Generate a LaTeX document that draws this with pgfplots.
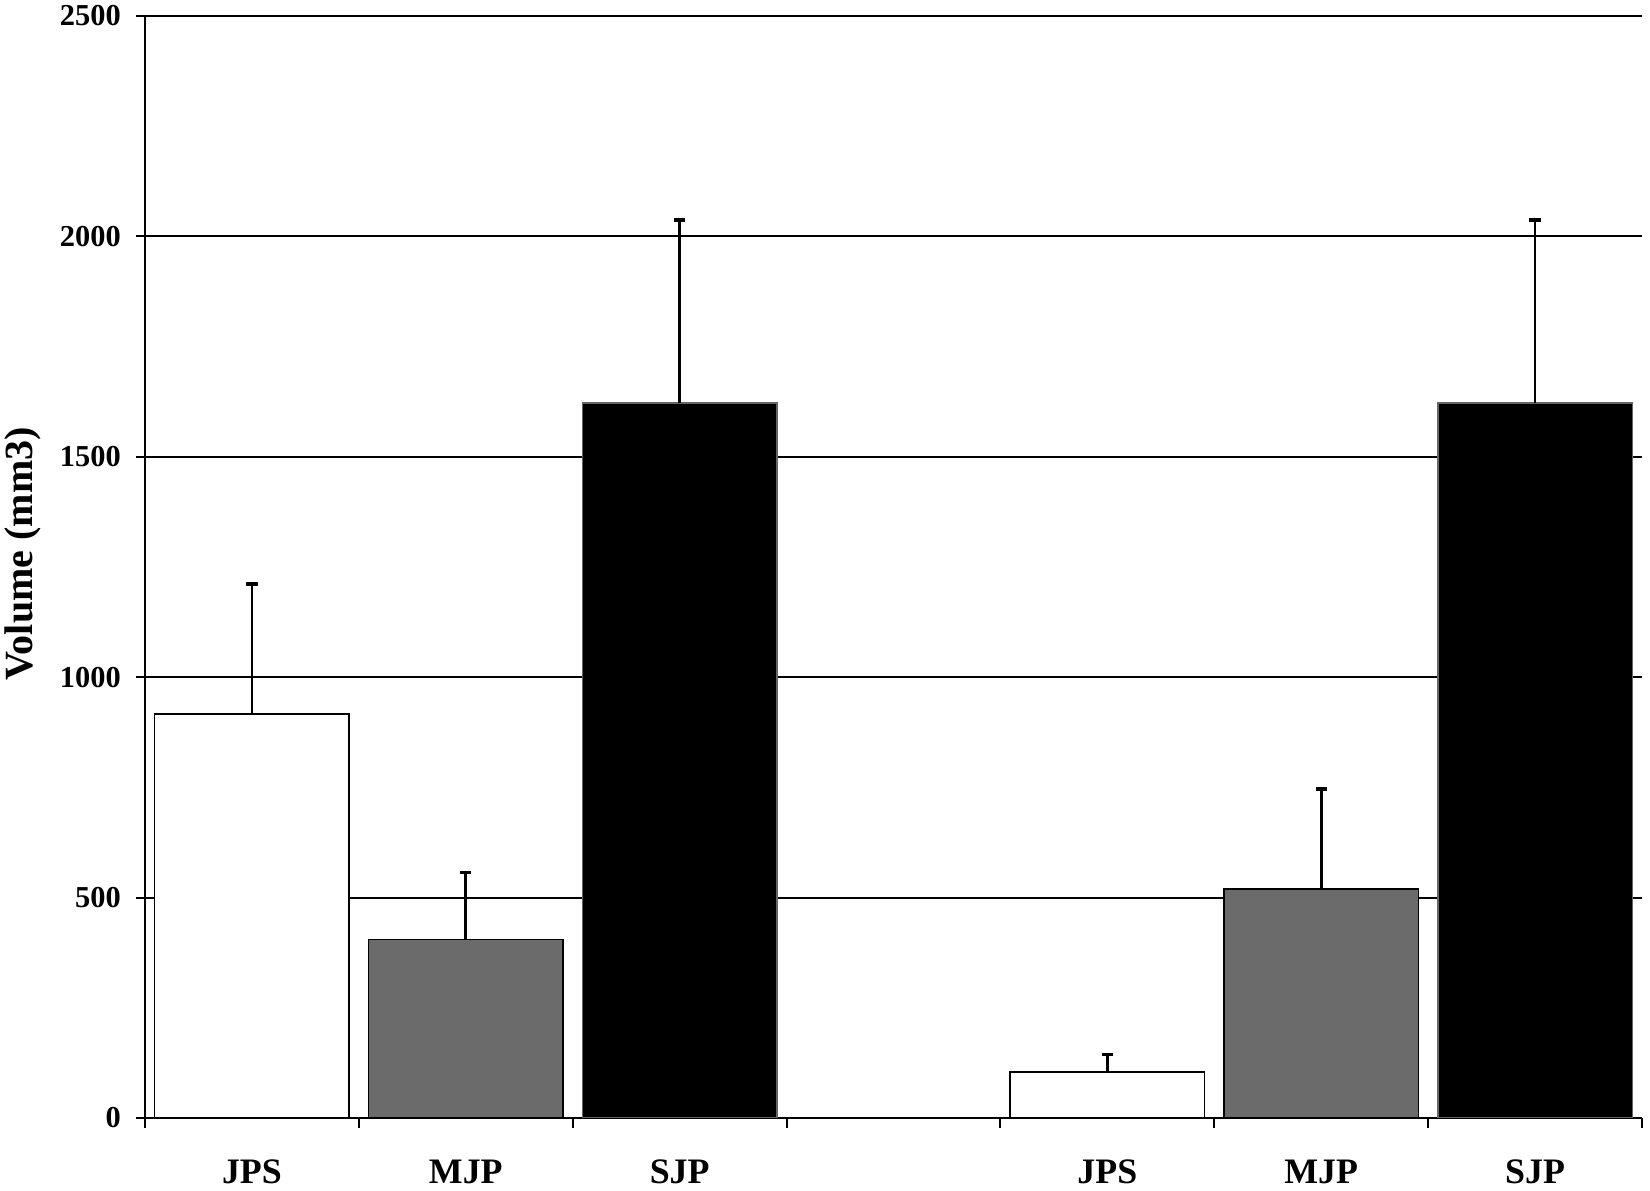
\documentclass[border=0pt]{standalone}
\usepackage{pgfplots}
\pgfplotsset{compat=1.18}
\usepackage{fontspec}
\setmainfont{Liberation Serif}
\definecolor{bargray}{RGB}{107,107,107}
\begin{document}
\begin{tikzpicture}
\path[use as bounding box] (-34.8pt,-17.52pt) rectangle (361.2pt,268.32pt);
\begin{axis}[
  scale only axis,
  width=359.28pt, height=264.48pt,
  xmin=-0.5, xmax=6.5,
  ymin=0, ymax=2500,
  ytick={0,500,1000,1500,2000,2500},
  xtick={0,1,2,4,5,6},
  xticklabels={JPS,MJP,SJP,JPS,MJP,SJP},
  minor xtick={-0.5,0.5,1.5,2.5,3.5,4.5,5.5,6.5},
  major x tick style={draw=none},
  minor tick length=2.4pt,
  major tick length=2.2pt,
  tick align=outside,
  axis x line*=bottom,
  axis y line*=left,
  axis line style={-, line width=0.5pt, black},
  tick style={line width=0.5pt, black},
  ymajorgrids,
  grid style={line width=0.45pt, black},
  /pgf/number format/assume math mode=true,
  /pgf/number format/1000 sep={},
  yticklabel style={font=\fontsize{7.3}{8}\selectfont\bfseries, anchor=east, inner sep=0pt, xshift=-3.4pt},
  xticklabel style={font=\fontsize{8.6}{9}\selectfont\bfseries, anchor=north, inner sep=0pt, yshift=-7.6pt},
  ylabel={Volume (mm3)},
  ylabel style={font=\fontsize{9.6}{11}\selectfont\bfseries, at={(axis description cs:-0.0813,0.512)}, anchor=center},
  bar width=0.91,
  ybar,
  error bars/y dir=plus,
  error bars/y explicit,
  error bars/error mark=|,
  error bars/error bar style={line width=0.65pt, black},
  error bars/error mark options={line width=0.9pt, mark size=1.35pt, black},
]
\addplot[bar shift=0pt, fill=white, draw=black, line width=0.4pt] coordinates {
  (0,916) +- (0,295)
  (4,104) +- (0,40)
};
\addplot[bar shift=0pt, fill=bargray, draw=black, line width=0.4pt] coordinates {
  (1,405) +- (0,152)
  (5,520) +- (0,227)
};
\addplot[bar shift=0pt, fill=black, draw=black!60, line width=0.4pt] coordinates {
  (2,1622) +- (0,415)
  (6,1622) +- (0,415)
};
\end{axis}
\end{tikzpicture}
\end{document}
